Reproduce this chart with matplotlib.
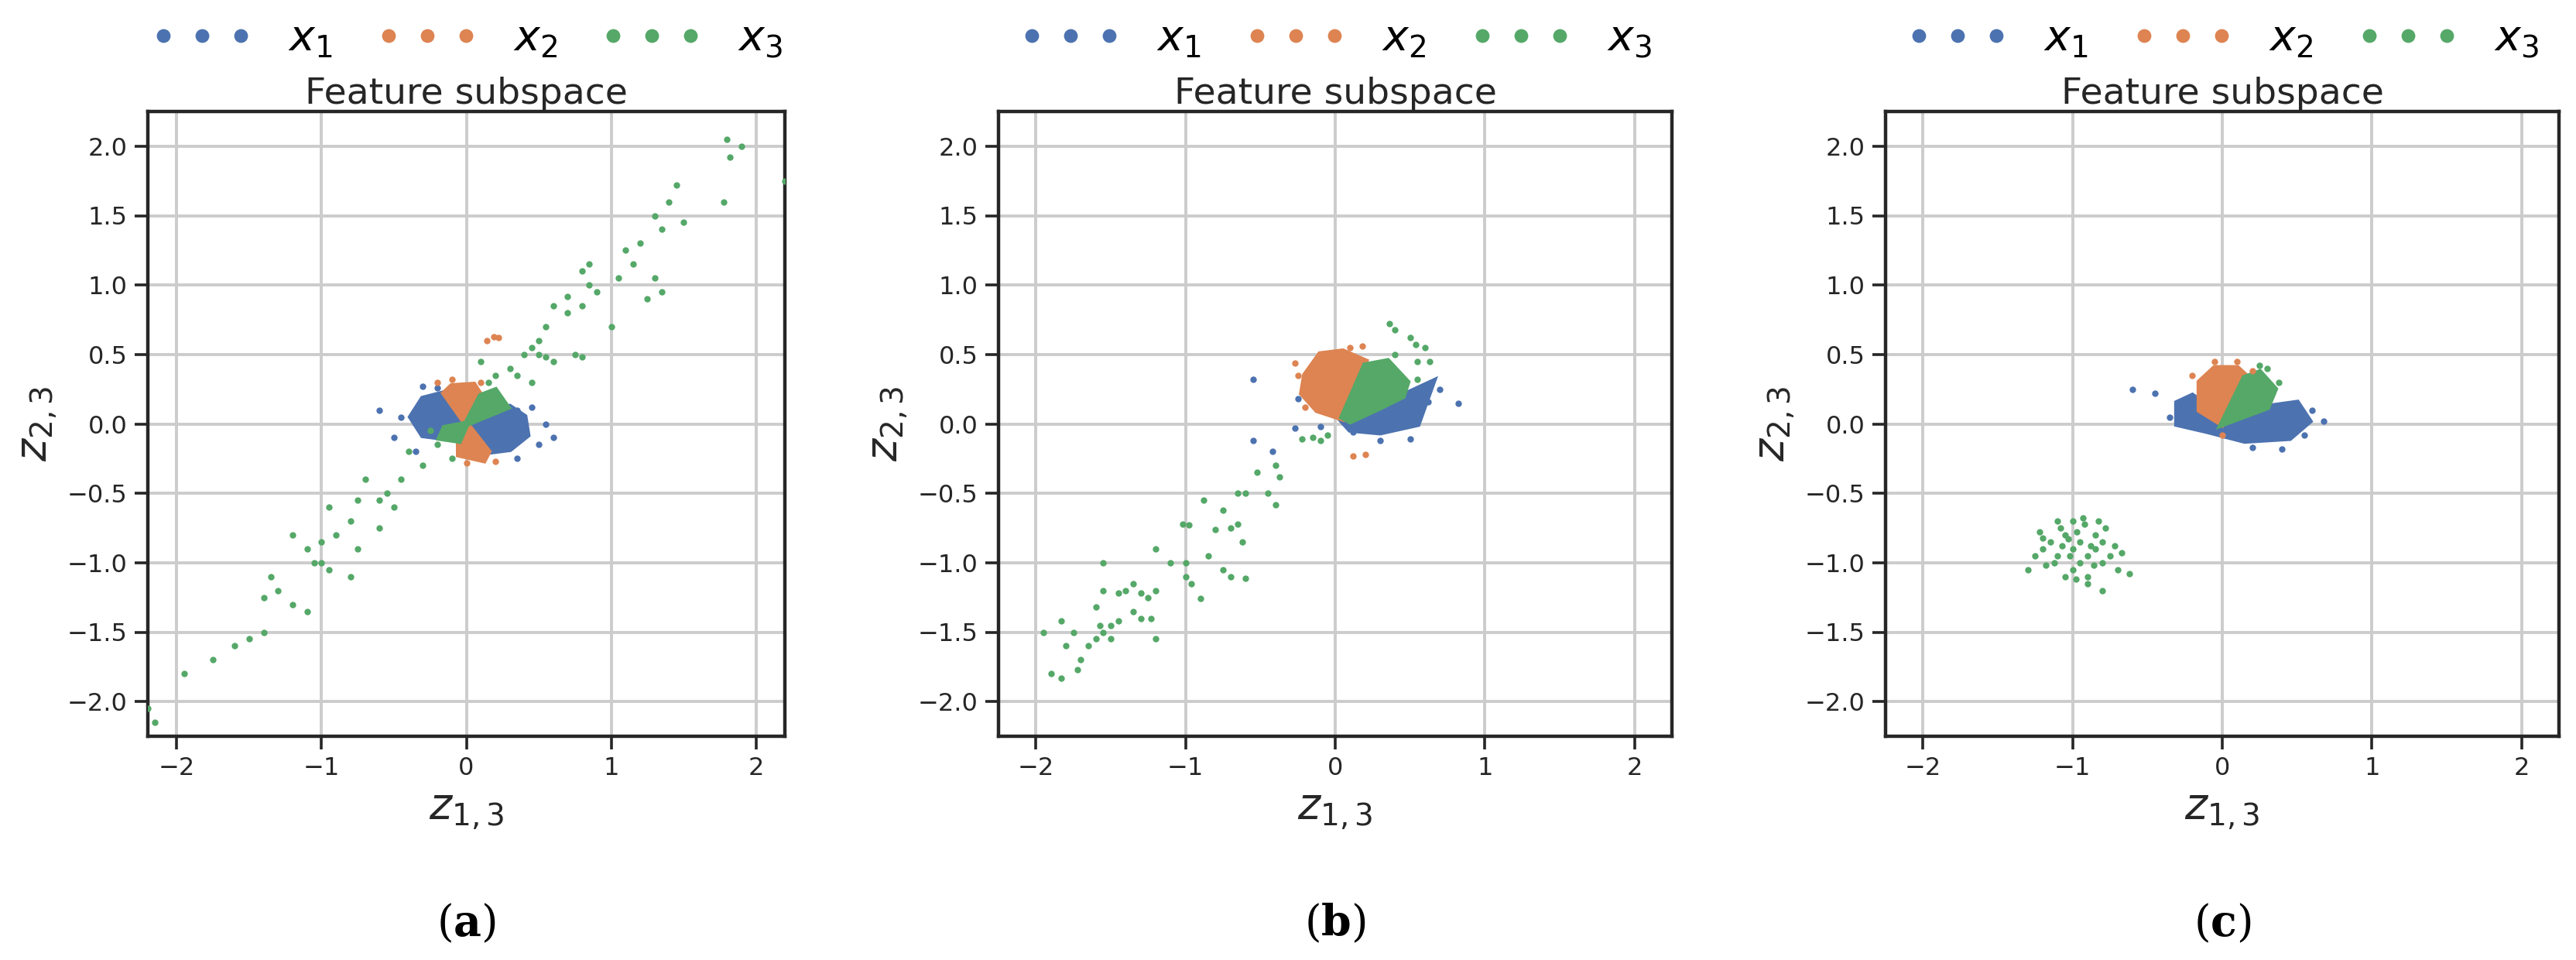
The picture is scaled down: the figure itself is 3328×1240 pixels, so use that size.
import matplotlib.pyplot as plt
from matplotlib.patches import Polygon
from matplotlib.lines import Line2D

BLUE, ORANGE, GREEN = "#4c72b0", "#dd8452", "#55a868"

# ---- panel (a) ----
a_core = {
    BLUE: [
        [(0, 0), (0.3, 0.12), (0.4, 0.05), (0.42, -0.08), (0.3, -0.18), (0.15, -0.2)],
        [(0, 0), (-0.15, -0.1), (-0.3, -0.08), (-0.38, 0.05), (-0.3, 0.18), (-0.15, 0.22)],
    ],
    ORANGE: [
        [(0, 0), (-0.15, 0.22), (-0.1, 0.27), (0.05, 0.28), (0.1, 0.2)],
        [(0, 0), (0.15, -0.2), (0.12, -0.26), (-0.05, -0.22), (-0.05, -0.12)],
    ],
    GREEN: [
        [(0, 0), (0.1, 0.2), (0.2, 0.24), (0.28, 0.12)],
        [(0, 0), (-0.05, -0.12), (-0.18, -0.1), (-0.15, -0.03)],
    ],
}
a_blue = [(-0.6, 0.1), (-0.3, 0.27), (-0.45, 0.05), (0.6, -0.1), (0.35, 0.1), (0.5, -0.15),
          (0.35, -0.25), (-0.35, -0.2), (0.55, 0.0), (-0.5, -0.1), (0.45, 0.12), (-0.2, 0.26)]
a_orange = [(0.14, 0.6), (0.19, 0.63), (0.22, 0.62), (-0.2, 0.3), (0.1, 0.3), (0.0, -0.28),
            (0.2, -0.27), (-0.1, 0.32)]
a_green = [(2.2, 1.75), (1.8, 2.05), (1.9, 2.0), (1.82, 1.92), (1.78, 1.6), (1.45, 1.72),
           (1.4, 1.6), (1.3, 1.5), (1.35, 1.4), (1.2, 1.3), (1.1, 1.25), (1.15, 1.15),
           (1.0, 0.7), (1.3, 1.05), (1.35, 0.95), (1.25, 0.9), (0.85, 1.15), (0.8, 1.1),
           (0.85, 1.0), (0.9, 0.95), (0.8, 0.85), (0.7, 0.92), (0.7, 0.8), (0.6, 0.85),
           (0.75, 0.5), (0.8, 0.48), (0.55, 0.7), (0.5, 0.6), (0.45, 0.55), (0.5, 0.5),
           (0.4, 0.5), (0.35, 0.35), (0.3, 0.4), (0.2, 0.35), (0.15, 0.3), (0.6, 0.45),
           (0.55, 0.48), (-0.1, -0.25), (-0.3, -0.3), (-0.4, -0.2), (-0.45, -0.4),
           (-0.55, -0.5), (-0.6, -0.55), (-0.5, -0.6), (-0.7, -0.4), (-0.75, -0.55),
           (-0.8, -0.7), (-0.95, -0.6), (-0.9, -0.8), (-1.0, -0.85), (-1.05, -1.0),
           (-0.95, -1.05), (-1.1, -0.9), (-1.2, -0.8), (-1.3, -1.2), (-1.35, -1.1),
           (-1.4, -1.25), (-1.2, -1.3), (-1.1, -1.35), (-0.8, -1.1), (-0.75, -0.9),
           (-1.5, -1.55), (-1.6, -1.6), (-1.4, -1.5), (-1.75, -1.7), (-1.95, -1.8),
           (-2.2, -2.05), (-2.15, -2.15), (-1.0, -1.0), (-0.6, -0.75), (-0.2, -0.15),
           (0.1, 0.45), (0.45, 0.3), (1.05, 1.05), (1.5, 1.45), (-0.25, -0.05)]

# ---- panel (b) ----
b_core = {
    BLUE: [[(0.05, 0.02), (0.3, 0.12), (0.45, 0.2), (0.65, 0.3), (0.6, 0.15), (0.55, 0.0),
            (0.3, -0.06), (0.1, -0.04)]],
    ORANGE: [[(-0.2, 0.35), (-0.1, 0.5), (0.05, 0.52), (0.2, 0.45), (0.05, 0.04),
              (-0.12, 0.1), (-0.22, 0.22)]],
    GREEN: [[(0.05, 0.05), (0.2, 0.42), (0.35, 0.45), (0.48, 0.3), (0.45, 0.2), (0.3, 0.12),
             (0.1, 0.02)]],
}
b_blue = [(-0.55, 0.32), (0.82, 0.15), (-0.25, 0.18), (-0.27, -0.03), (0.3, -0.12),
          (0.5, -0.11), (0.7, 0.25), (0.62, 0.16), (-0.55, -0.12), (-0.42, -0.2),
          (-0.1, -0.02), (0.12, -0.06)]
b_orange = [(0.12, -0.23), (0.2, -0.22), (-0.27, 0.44), (0.1, 0.55), (0.18, 0.56),
            (-0.25, 0.35), (0.0, 0.5), (-0.2, 0.12)]
b_green = [(0.36, 0.72), (0.4, 0.68), (0.5, 0.62), (0.54, 0.57), (0.6, 0.55), (0.55, 0.45),
           (0.63, 0.45), (0.55, 0.32), (0.4, 0.5), (-0.15, -0.1), (-0.1, -0.12),
           (-0.22, -0.11), (-0.05, -0.08),
           (-0.52, -0.35), (-0.4, -0.3), (-0.37, -0.38), (-0.45, -0.5), (-0.4, -0.58),
           (-0.6, -0.5), (-0.65, -0.5), (-0.75, -0.62), (-0.7, -0.75), (-0.65, -0.72),
           (-0.62, -0.85), (-0.8, -0.76), (-0.85, -0.95), (-0.75, -1.05), (-0.7, -1.1),
           (-0.6, -1.11), (-0.9, -1.26), (-1.0, -1.0), (-1.02, -0.72), (-0.98, -0.73),
           (-1.0, -1.1), (-0.96, -1.15), (-1.1, -1.0), (-1.2, -0.9), (-1.2, -1.2),
           (-1.25, -1.25), (-1.3, -1.22), (-1.35, -1.35), (-1.4, -1.2), (-1.45, -1.22),
           (-1.55, -1.0), (-1.55, -1.2), (-1.2, -1.55), (-1.23, -1.4), (-1.3, -1.4),
           (-1.45, -1.42), (-1.5, -1.45), (-1.55, -1.5), (-1.6, -1.32), (-1.65, -1.6),
           (-1.7, -1.7), (-1.72, -1.77), (-1.8, -1.6), (-1.83, -1.83), (-1.9, -1.8),
           (-1.95, -1.5), (-1.83, -1.42), (-1.75, -1.5), (-1.6, -1.55), (-1.57, -1.45),
           (-1.5, -1.55), (-1.35, -1.15), (-0.88, -0.55)]

# ---- panel (c) ----
c_core = {
    BLUE: [[(-0.3, 0.15), (-0.2, 0.2), (0.0, 0.05), (0.05, 0.0), (0.3, 0.12), (0.5, 0.15),
            (0.58, 0.02), (0.45, -0.1), (0.15, -0.12), (-0.1, -0.05), (-0.3, 0.0)]],
    ORANGE: [[(-0.15, 0.1), (-0.15, 0.3), (-0.05, 0.4), (0.1, 0.4), (0.2, 0.3), (0.0, 0.0)]],
    GREEN: [[(0.0, 0.0), (0.15, 0.33), (0.25, 0.37), (0.35, 0.25), (0.3, 0.12)]],
}
c_blue = [(-0.6, 0.25), (0.68, 0.02), (-0.45, 0.22), (0.4, -0.18), (0.6, 0.1), (-0.35, 0.05),
          (0.2, -0.17), (0.55, -0.08)]
c_orange = [(-0.05, 0.45), (0.1, 0.45), (-0.2, 0.35), (0.2, 0.38), (0.0, -0.08)]
c_green = [(0.3, 0.4), (0.25, 0.42), (0.38, 0.3),
           (-1.0, -0.9), (-0.95, -0.85), (-1.05, -0.8), (-0.9, -0.95), (-1.1, -0.95),
           (-1.0, -0.7), (-0.92, -0.72), (-1.08, -0.75), (-0.85, -0.8), (-1.15, -0.85),
           (-1.2, -0.9), (-1.25, -0.95), (-1.3, -1.05), (-1.2, -0.82), (-0.8, -1.0),
           (-0.75, -0.95), (-0.7, -1.05), (-0.62, -1.08), (-0.8, -1.2), (-0.9, -1.1),
           (-1.0, -1.05), (-1.05, -1.1), (-0.95, -1.0), (-0.85, -0.9), (-0.8, -0.85),
           (-1.12, -1.0), (-0.97, -0.78), (-1.02, -0.95), (-0.88, -0.88), (-0.93, -0.68),
           (-1.07, -0.88), (-0.78, -0.75), (-0.72, -0.88), (-1.18, -1.02), (-0.98, -1.12),
           (-0.86, -1.02), (-0.67, -0.93), (-1.22, -0.78), (-1.1, -0.7), (-0.83, -0.7),
           (-0.9, -1.15), (-1.03, -0.83)]

panels = [
    ("a", [191, 1014], a_core, a_blue, a_orange, a_green, 2.2),
    ("b", [1290, 2160], b_core, b_blue, b_orange, b_green, 2.25),
    ("c", [2436, 3306], c_core, c_blue, c_orange, c_green, 2.25),
]

W, H = 3328, 1240
plt.rcParams["font.family"] = ["DejaVu Sans"]
plt.rcParams["mathtext.fontset"] = "dejavusans"
fig = plt.figure(figsize=(W / 200, H / 200), dpi=200)

for tag, (x0, x1), core, pb, po, pg, lim in panels:
    ax = fig.add_axes([x0 / W, 1 - 951 / H, (x1 - x0) / W, (951 - 144) / H])
    ax.set_xlim(-lim, lim)
    ax.set_ylim(-2.25, 2.25)
    ax.grid(True, color="#cccccc", lw=1.4)
    ax.set_axisbelow(True)
    for col in (BLUE, ORANGE, GREEN):
        for poly in core[col]:
            ax.add_patch(Polygon(poly, closed=True, facecolor=col, edgecolor=col,
                                 lw=3, zorder=2))
    for pts, col in ((pb, BLUE), (po, ORANGE), (pg, GREEN)):
        ax.scatter([p[0] for p in pts], [p[1] for p in pts], s=9, color=col,
                   linewidths=0, zorder=3)
    ax.set_xticks([-2, -1, 0, 1, 2])
    ax.set_yticks([-2.0, -1.5, -1.0, -0.5, 0.0, 0.5, 1.0, 1.5, 2.0])
    ax.set_yticklabels(["−2.0", "−1.5", "−1.0", "−0.5", "0.0", "0.5", "1.0", "1.5", "2.0"])
    ax.set_xticklabels(["−2", "−1", "0", "1", "2"])
    ax.tick_params(labelsize=11.5, length=6, width=1.3, colors="#262626")
    for sp in ax.spines.values():
        sp.set_linewidth(1.6)
        sp.set_color("#262626")
    ax.set_xlabel(r"$z_{1,3}$", fontsize=20, color="#262626", labelpad=4)
    ax.set_ylabel(r"$z_{2,3}$", fontsize=20, color="#262626", labelpad=4)
    ax.set_title("Feature subspace", fontsize=17, color="#262626", pad=1)
    handles = [Line2D([], [], ls="", marker="o", color=c) for c in (BLUE, ORANGE, GREEN)]
    ax.legend(handles, [r"$x_1$", r"$x_2$", r"$x_3$"], ncol=3, frameon=False,
              fontsize=20, numpoints=3, markerscale=0.9, handletextpad=0.8,
              columnspacing=1.0, loc="lower center", bbox_to_anchor=(0.5, 1.055),
              borderaxespad=0, handlelength=2.4)
    fig.text((x0 + x1) / 2 / W, 1 - 1193 / H, r"($\mathbf{%s}$)" % tag, ha="center",
             va="center", fontsize=20, family="DejaVu Serif", math_fontfamily="dejavuserif")

fig.savefig("out.png", dpi=200)
